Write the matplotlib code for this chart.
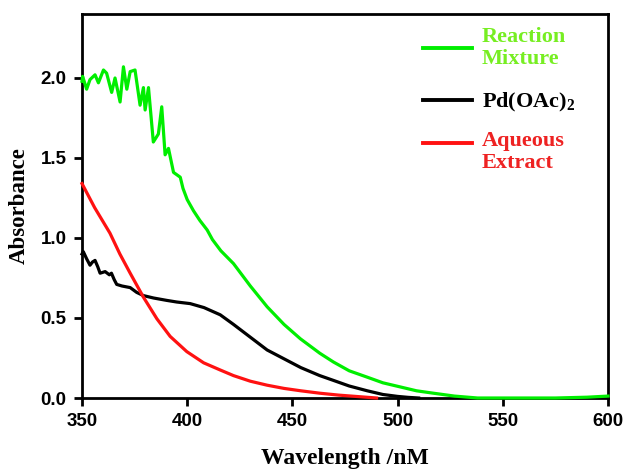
import matplotlib
matplotlib.use("Agg")
import matplotlib.pyplot as plt
from matplotlib.lines import Line2D

plt.rcParams["mathtext.fontset"] = "custom"
plt.rcParams["mathtext.rm"] = "Liberation Serif:bold"
plt.rcParams["mathtext.bf"] = "Liberation Serif:bold"

# Reaction Mixture (green)
wl_mix = [350, 350.3, 352.2, 353.8, 356.2, 357.8, 360.2, 361.7, 364.1, 365.7, 368.1, 369.7, 371.3, 372.9,
          375.2, 377.6, 379.2, 380, 381.6, 383.9, 386.3, 387.9, 389.5, 391.1, 393.5, 396.7, 398, 400,
          403, 406, 409.5, 412, 416, 422, 430, 438, 446, 453.8, 463, 469.5, 477, 485.6, 493, 501, 509,
          517, 527, 538, 550, 575, 590, 600]
ab_mix = [1.98, 2.01, 1.93, 1.99, 2.02, 1.97, 2.05, 2.03, 1.91, 2.00, 1.85, 2.07, 1.93, 2.04,
          2.05, 1.83, 1.94, 1.80, 1.94, 1.60, 1.65, 1.82, 1.52, 1.56, 1.41, 1.38, 1.31, 1.24,
          1.17, 1.11, 1.05, 0.99, 0.92, 0.84, 0.70, 0.57, 0.46, 0.37, 0.28, 0.225, 0.17, 0.13, 0.095, 0.07, 0.045,
          0.03, 0.012, 0.0, 0.0, 0.0, 0.005, 0.012]

# Pd(OAc)2 (black)
wl_pd = [350, 350.6, 352.2, 353.8, 355, 356.2, 357.5, 358.6, 361, 363, 364, 365.3, 366.5, 369, 372.9, 376,
         379.2, 384, 390.3, 395, 401.4, 408, 415.7, 422, 430, 438, 446, 454, 463, 469.5, 477, 485.6, 493, 500, 505, 510]
ab_pd = [0.90, 0.915, 0.87, 0.83, 0.85, 0.86, 0.82, 0.78, 0.79, 0.77, 0.78, 0.74, 0.71, 0.70, 0.69, 0.66,
         0.64, 0.625, 0.61, 0.60, 0.59, 0.565, 0.52, 0.46, 0.38, 0.30, 0.245, 0.19, 0.14, 0.11, 0.075, 0.045, 0.022, 0.01, 0.004, 0.0]

# Aqueous Extract (red)
wl_aq = [350, 356, 363.3, 368, 372.9, 379.2, 385.6, 391.9, 399.8, 407.8, 415.7, 422, 430, 438, 446, 454, 463, 472, 480, 490]
ab_aq = [1.34, 1.19, 1.03, 0.90, 0.78, 0.63, 0.495, 0.385, 0.29, 0.22, 0.175, 0.14, 0.105, 0.08, 0.06, 0.045, 0.03, 0.018, 0.01, 0.0]

xticks = [350, 400, 450, 500, 550, 600]
yticks = [0.0, 0.5, 1.0, 1.5, 2.0]

GREEN = "#00ee00"
GREEN_TXT = "#77ee22"
RED = "#ff1111"
RED_TXT = "#ee2222"

fig = plt.figure(figsize=(6.27, 4.73), dpi=100)
ax = fig.add_axes([82/627, 1-398/473, (608-82)/627, (398-14)/473])

ax.plot(wl_mix, ab_mix, color=GREEN, lw=2.3, clip_on=False, zorder=3)
ax.plot(wl_pd, ab_pd, color="black", lw=2.3, clip_on=False, zorder=3)
ax.plot(wl_aq, ab_aq, color=RED, lw=2.3, clip_on=False, zorder=3)

ax.set_xlim(350, 600)
ax.set_ylim(0, 2.4)
ax.set_xticks(xticks)
ax.set_yticks(yticks)
ax.set_xticklabels([str(v) for v in xticks])
ax.set_yticklabels([f"{v:.1f}" for v in yticks])
for s in ax.spines.values():
    s.set_linewidth(2)
ax.tick_params(direction="out", length=6, width=2, labelsize=13.5, pad=5,
               top=False, right=False)
for lab in ax.get_xticklabels() + ax.get_yticklabels():
    lab.set_fontfamily("Liberation Sans")
    lab.set_fontweight("bold")

ax.set_xlabel("Wavelength /nM", fontfamily="Liberation Serif", fontweight="bold", fontsize=17, labelpad=13)
ax.set_ylabel("Absorbance", fontfamily="Liberation Serif", fontweight="bold", fontsize=16.5, labelpad=8)

# custom legend
def fx(px):
    return px / 627
def fy(py):
    return 1 - py / 473

entries = [
    (48, GREEN, GREEN_TXT, "Reaction\nMixture", 48),
    (100, "black", "black", "Pd(OAc)$_\\mathbf{2}$", 102),
    (143, RED, RED_TXT, "Aqueous\nExtract", 152),
]
for ly, lc, tc, txt, ty in entries:
    fig.add_artist(Line2D([fx(423), fx(472)], [fy(ly), fy(ly)], color=lc, lw=2.8,
                          transform=fig.transFigure))
    fig.text(fx(482), fy(ty), txt, color=tc, fontfamily="Liberation Serif",
             fontweight="bold", fontsize=16, va="center", ha="left", linespacing=1.1)

fig.savefig("out.png", dpi=100)
